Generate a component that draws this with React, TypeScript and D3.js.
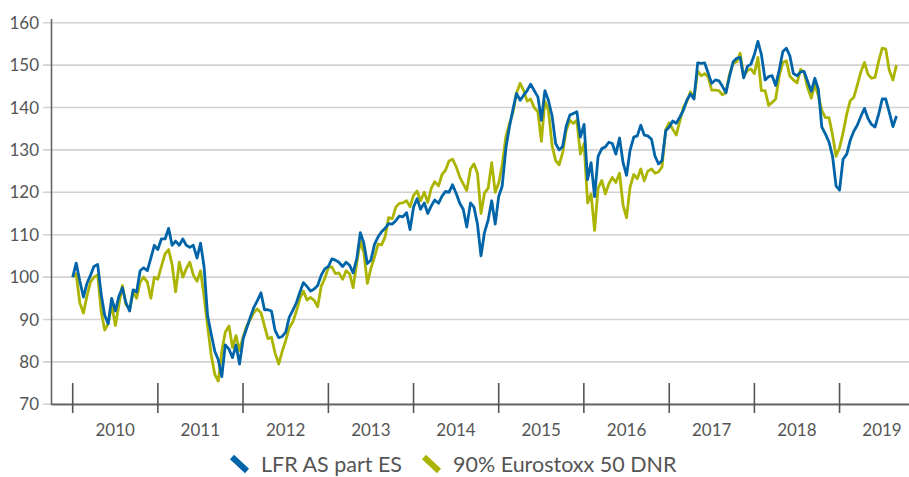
import React from 'react';
import * as d3 from 'd3';

// half-monthly readings, Jan 2010 .. Aug 2019 (base 100)
const lfr = [
  100, 103.3, 99.2, 95.3, 98.5, 100.4, 102.5, 103, 96, 91, 89, 95, 92, 95.5, 97.5, 94, 92, 97, 96.5, 101.5, 102.2, 101.5, 104.5, 107.5,
  106.5, 109, 109, 111.5, 107.5, 108.5, 107.5, 109, 107.5, 107, 107.5, 104.5, 108, 102.5, 91, 86.5, 82.5, 80.5, 76.5, 84, 83, 81, 84, 79.5,
  85.5, 88, 90.5, 92.8, 94.4, 96.3, 92.3, 92.3, 92, 87.5, 85.7, 86, 87, 90.5, 92.2, 94, 96.5, 98.7, 97.8, 96.7, 97.2, 98, 100.4, 102,
  102.5, 104.3, 104, 103.5, 102.5, 103.5, 102.8, 101, 104.5, 110.5, 108, 103.2, 104, 107.8, 109.5, 110.7, 111.5, 112.6, 112.5, 113.3, 114.4, 114.2, 115.2, 111.2,
  116.5, 118.5, 116, 117.5, 115, 116.8, 118.2, 117.4, 119.1, 120.2, 120, 121.8, 119.7, 117.4, 116, 111.8, 117.5, 116.5, 112.5, 105, 110.5, 113.5, 118, 112.5,
  119, 121.5, 130.5, 135.4, 139.5, 143.3, 141.7, 142.9, 144, 145.5, 144, 142.5, 137, 144, 141.7, 138, 131.5, 130, 130.8, 135.5, 138.2, 138.6, 139, 133,
  136, 123, 127, 119, 128.5, 130.3, 130.7, 131.8, 131.5, 129, 132.8, 127, 124, 129.9, 133, 133.3, 135.8, 133.5, 133.3, 132.5, 128.5, 126.7, 127.5, 134.5,
  135.4, 136.8, 136.3, 137.7, 139.4, 141.8, 143.2, 142, 150.5, 150.4, 150.5, 148.1, 145.7, 146.5, 146.3, 145, 143.5, 147.2, 150.8, 151.6, 151.8, 147, 149.7, 150.2,
  152.5, 155.6, 152.5, 146.5, 147.3, 147.5, 145.2, 149, 153.2, 154, 152.2, 148, 147.5, 148.4, 148.5, 146.2, 143.8, 146.9, 144.3, 135.4, 133.8, 131.8, 128.5, 121.5,
  120.5, 127.8, 129, 132.3, 134.4, 135.8, 138, 139.8, 137.4, 136, 135.4, 138.5, 142, 142, 138.9, 135.5, 138,
];

const eurostoxx = [
  100, 100.8, 94, 91.5, 95.5, 98.8, 100, 100.5, 92, 87.5, 89, 93.5, 88.6, 93.5, 98, 93.5, 92.5, 96.5, 95, 98.8, 100, 98.8, 95, 100,
  99.5, 102.5, 105.5, 106.5, 103, 96.5, 103.5, 100, 102, 103.5, 100.5, 99, 101.5, 95.5, 88.5, 81.5, 77, 75.5, 82.5, 87, 88.5, 83.4, 86.2, 82.7,
  86, 88.5, 90, 91.6, 92.5, 91.6, 88.5, 85.5, 85.8, 82.2, 79.5, 82.5, 85, 88, 89.5, 92, 95, 96.7, 94.6, 95.2, 94.5, 93, 97.8, 99.8,
  102.3, 102.4, 100.8, 101, 99.5, 101.5, 100.8, 97.5, 103.5, 108.5, 105.8, 98.5, 102, 104.8, 107.8, 107.6, 109.5, 114, 113.8, 116.5, 117.4, 117.5, 118, 116.6,
  119.3, 120.3, 118, 120, 117.6, 121, 122.5, 121.5, 124.2, 125.2, 127.4, 127.8, 126, 123.6, 122, 120.4, 125.5, 126.7, 124.5, 115, 119.8, 121, 127, 120,
  122.2, 126.5, 133.2, 136.2, 138.8, 143.3, 145.7, 144, 141.5, 142, 140, 139, 132, 141.5, 139.4, 131, 127.5, 126.5, 129.3, 134.5, 137, 136.2, 137, 129,
  131.5, 117.5, 119.6, 111, 121, 122.8, 119.6, 122, 123.5, 122.3, 124.5, 117, 114, 121.2, 124.2, 123.2, 125.5, 122.7, 125, 125.5, 124.5, 124.8, 126, 134.8,
  136.4, 134.9, 133.5, 136.7, 140.1, 141.4, 143.7, 142.2, 148.6, 147.5, 148, 147.2, 144.1, 144.1, 144, 143, 143.5, 147.8, 150.4, 150.8, 152.8, 147.3, 148.7, 149.1,
  148, 151.8, 144, 144, 140.5, 141.2, 142, 147.6, 150.6, 151, 147.4, 146.5, 145.8, 149, 148.3, 144.7, 142.2, 145.5, 142.8, 139.3, 137.6, 137.6, 133.5, 128.5,
  130.5, 134, 138.5, 141.6, 142.4, 145.3, 148.5, 150.6, 147.8, 146.9, 147.1, 151, 154, 153.8, 148.8, 146.5, 150,
];

const years = [2010, 2011, 2012, 2013, 2014, 2015, 2016, 2017, 2018, 2019];
const yTicks = [70, 80, 90, 100, 110, 120, 130, 140, 150, 160];
const seriesNames = ['LFR AS part ES', '90% Eurostoxx 50 DNR'];

const BLUE = '#0064a8';
const GREEN = '#abb400';
const FONT = 'Lato, "Open Sans", sans-serif';

const START = new Date(2010, 0, 1);
const dates = lfr.map((_, i) => d3.timeDay.offset(START, Math.round((i * 365.25) / 24)));

export default function App() {
  const width = 909;
  const height = 477;

  const x = d3.scaleTime()
    .domain([new Date(2010, 0, 1), new Date(2020, 0, 1)])
    .range([72.7, 924.7]);
  const y = d3.scaleLinear().domain([70, 160]).range([404.3, 22.7]);

  const line = d3.line<number>()
    .x((_, i) => x(dates[i]))
    .y((d) => y(d));

  const axisX = 51.5;

  return (
    <svg width={width} height={height} style={{ position: 'absolute', left: 0, top: 0 }}>
      {/* grid */}
      {yTicks.map((t) => (
        <g key={t}>
          <line x1={43} x2={width} y1={y(t)} y2={y(t)} stroke="#d2d2d2" strokeWidth={1.6} />
          <text x={39} y={y(t)} dy="0.36em" textAnchor="end" fontFamily={FONT} fontSize={17} fill="#555">
            {t}
          </text>
        </g>
      ))}

      {/* series */}
      <path d={line(eurostoxx) || ''} fill="none" stroke={GREEN} strokeWidth={2.8} strokeLinejoin="round" />
      <path d={line(lfr) || ''} fill="none" stroke={BLUE} strokeWidth={2.8} strokeLinejoin="round" />

      {/* axes */}
      <line x1={axisX} x2={axisX} y1={19} y2={405} stroke="#666" strokeWidth={1.6} />
      <line x1={axisX} x2={width} y1={404.5} y2={404.5} stroke="#666" strokeWidth={1.8} />
      {years.map((yr) => (
        <g key={yr}>
          <line x1={x(new Date(yr, 0, 1))} x2={x(new Date(yr, 0, 1))} y1={383} y2={413} stroke="#555" strokeWidth={1.6} />
          <text x={x(new Date(yr, 6, 2))} y={436} textAnchor="middle" fontFamily={FONT} fontSize={17} fill="#555">
            {yr}
          </text>
        </g>
      ))}

      {/* legend */}
      {seriesNames.map((name, i) => {
        const lx = i === 0 ? 232 : 424;
        return (
          <g key={name}>
            <line x1={lx} y1={457} x2={lx + 15} y2={471} stroke={i === 0 ? BLUE : GREEN} strokeWidth={6} />
            <text x={lx + 29} y={472} fontFamily={FONT} fontSize={21.5} fill="#555">
              {name}
            </text>
          </g>
        );
      })}
    </svg>
  );
}
